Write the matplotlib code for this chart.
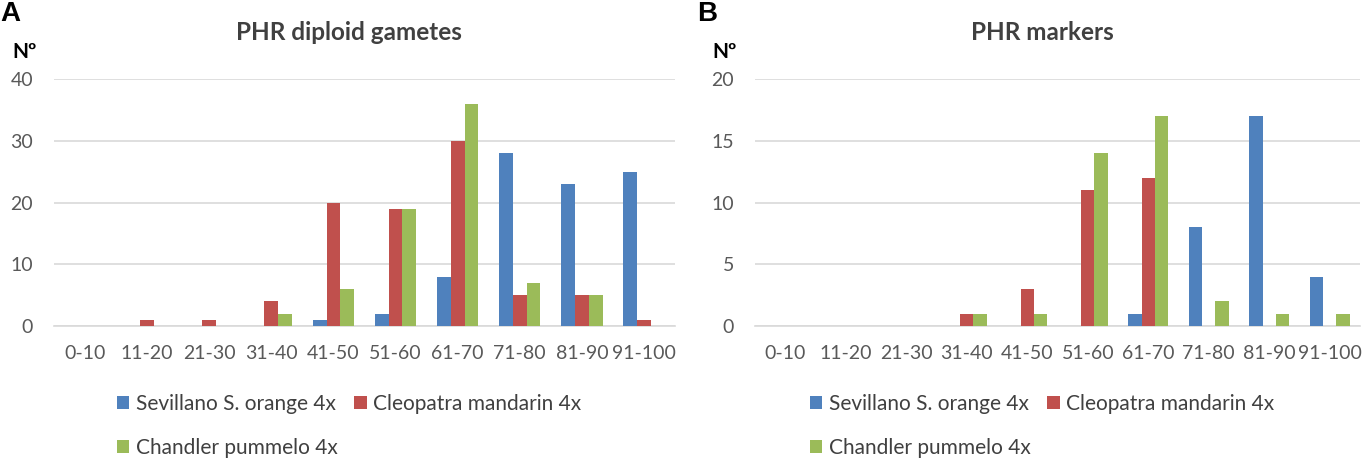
import matplotlib
matplotlib.use("Agg")
import matplotlib.pyplot as plt
import numpy as np

categories = ["0-10", "11-20", "21-30", "31-40", "41-50", "51-60", "61-70", "71-80", "81-90", "91-100"]
series_names = ["Sevillano S. orange 4x", "Cleopatra mandarin 4x", "Chandler pummelo 4x"]

gametes_sevillano = [0, 0, 0, 0, 1, 2, 8, 28, 23, 25]
gametes_cleopatra = [0, 1, 1, 4, 20, 19, 30, 5, 5, 1]
gametes_chandler = [0, 0, 0, 2, 6, 19, 36, 7, 5, 0]

markers_sevillano = [0, 0, 0, 0, 0, 0, 1, 8, 17, 4]
markers_cleopatra = [0, 0, 0, 1, 3, 11, 12, 0, 0, 0]
markers_chandler = [0, 0, 0, 1, 1, 14, 17, 2, 1, 1]

titles = ["PHR diploid gametes", "PHR markers"]
panel_letters = ["A", "B"]
yticks_A = [0, 10, 20, 30, 40]
yticks_B = [0, 5, 10, 15, 20]

colors = ["#4F81BD", "#C0504D", "#9BBB59"]
FONT = "Lato"
W, H = 1365, 459

fig = plt.figure(figsize=(W / 100, H / 100), dpi=100)

def px_axes(x0, x1, ytop, ybot):
    return [x0 / W, 1 - ybot / H, (x1 - x0) / W, (ybot - ytop) / H]

axA = fig.add_axes(px_axes(54, 675, 79, 326))
axB = fig.add_axes(px_axes(755, 1360, 79, 326))

panels = [
    (axA, [gametes_sevillano, gametes_cleopatra, gametes_chandler], yticks_A, 349, 25),
    (axB, [markers_sevillano, markers_cleopatra, markers_chandler], yticks_B, 1042, 725),
]

bw = 0.222
x = np.arange(len(categories))
for i, (ax, data, yt, cx, nx) in enumerate(panels):
    bars = []
    for k, vals in enumerate(data):
        b = ax.bar(x + (k - 1) * bw, vals, width=bw, color=colors[k], zorder=3,
                   label=series_names[k])
        bars.append(b)
    ax.set_xlim(-0.5, len(categories) - 0.5)
    ax.set_ylim(yt[0], yt[-1])
    ax.set_yticks(yt)
    ax.set_xticks(x)
    ax.set_xticklabels(categories)
    ax.yaxis.grid(True, color="#D9D9D9", linewidth=1.2, zorder=0)
    ax.set_axisbelow(True)
    for s in ["top", "right", "left"]:
        ax.spines[s].set_visible(False)
    ax.spines["bottom"].set_color("#D9D9D9")
    ax.spines["bottom"].set_linewidth(1.2)
    ax.tick_params(axis="both", length=0, labelsize=14, labelcolor="#595959")
    ax.tick_params(axis="y", pad=15)
    ax.tick_params(axis="x", pad=14)
    for lab in ax.get_xticklabels() + ax.get_yticklabels():
        lab.set_fontfamily(FONT)
    # title
    fig.text(cx / W, 1 - 33 / H, titles[i], ha="center", va="center",
             fontsize=17.5, fontweight="bold", color="#404040", family=FONT)
    # Nº label
    fig.text(nx / W, 1 - 52 / H, "Nº", ha="center", va="center",
             fontsize=15, fontweight="bold", color="#000000", family=FONT)
    # panel letter
    fig.text((0 if i == 0 else 697) / W, 1 - 1 / H, panel_letters[i], ha="left", va="top",
             fontsize=20, fontweight="bold", color="#000000", family="Liberation Sans")
    # legend in row-major order
    handles = [bars[0], bars[2], bars[1]]
    labels = [series_names[0], series_names[2], series_names[1]]
    leg = ax.legend(handles, labels, ncol=2, loc="upper center",
                    bbox_to_anchor=(cx / W, 1 - 394 / H), bbox_transform=fig.transFigure,
                    frameon=False, handlelength=0.6, handleheight=0.6,
                    handletextpad=0.3, columnspacing=0.8, labelspacing=1.15,
                    borderaxespad=0, borderpad=0,
                    prop={"family": FONT, "size": 15})
    for t in leg.get_texts():
        t.set_color("#404040")

fig.savefig("out.png", dpi=100)
